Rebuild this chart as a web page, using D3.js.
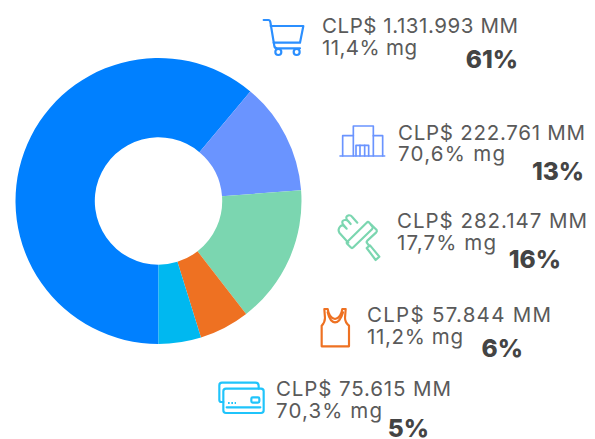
<!DOCTYPE html>
<html><head><meta charset="utf-8">
<script src="https://cdn.jsdelivr.net/npm/d3@7/dist/d3.min.js"></script>
<style>html,body{margin:0;background:#fff}svg{display:block}text{font-family:Inter,"Open Sans",sans-serif}</style>
</head><body><svg id="c" width="595" height="439"></svg>
<script>
const categories=["Supermercados","Centros comerciales","Mejoramiento del hogar","Vestuario","Tarjetas"];
const sliceValues=[61.1,12.7,15.7,5.7,4.8];
const amounts=["CLP$ 1.131.993 MM","CLP$ 222.761 MM","CLP$ 282.147 MM","CLP$ 57.844 MM","CLP$ 75.615 MM"];
const margins=["11,4% mg","70,6% mg","17,7% mg","11,2% mg","70,3% mg"];
const shares=["61%","13%","16%","6%","5%"];
const colors=["#0080ff","#6a94ff","#7bd6b0","#ee7122","#00b8f0"];
const iconColors=["#2b8fff","#6a94ff","#7bd6b0","#ee7122","#1fc4fb"];

const svg=d3.select("#c");
const pie=d3.pie().sort(null).value(d=>d).startAngle(Math.PI).endAngle(3*Math.PI);
const arc=d3.arc().innerRadius(63.7).outerRadius(143);
svg.append("g").attr("transform","translate(158.5,201)")
  .selectAll("path").data(pie(sliceValues)).join("path")
  .attr("d",arc).attr("fill",(d,i)=>colors[i]);

const layout=[
 {x:322,y1:33,y2:55,w:196,w2:95,px:518,py:68},
 {x:398,y1:139.5,y2:161,w:187,w2:107,px:584,py:180},
 {x:397,y1:228,y2:250,w:190,w2:99,px:561,py:268},
 {x:367,y1:322,y2:344,w:184,w2:96,px:523,py:357},
 {x:276,y1:396,y2:418,w:175,w2:106,px:429,py:437}
];
const g=svg.selectAll("g.item").data(layout).join("g").attr("class","item");
g.append("text").attr("x",d=>d.x).attr("y",d=>d.y1).attr("font-size",20.5).attr("fill","#5a5a5a")
 .attr("textLength",d=>d.w).attr("lengthAdjust","spacing").text((d,i)=>amounts[i]);
g.append("text").attr("x",d=>d.x).attr("y",d=>d.y2).attr("font-size",20.5).attr("fill","#5a5a5a")
 .attr("textLength",d=>d.w2).attr("lengthAdjust","spacing").text((d,i)=>margins[i]);
g.append("text").attr("x",d=>d.px).attr("y",d=>d.py).attr("text-anchor","end").attr("font-size",24.5).attr("font-weight",800).attr("fill","#444").text((d,i)=>shares[i]);

// Icon glyphs, one per category
const icons=[
 {t:[250,0],sw:6.5,parts:["M41 60H55Q60 60 61 66L73 138Q74 145 82 145H150","M62 78H160L150 128H71","M76 156a9 9 0 1 0 18 0a9 9 0 1 0 -18 0","M131 156a9 9 0 1 0 18 0a9 9 0 1 0 -18 0"]},
 {t:[250,0],sw:5,parts:["M270 468H404","M310 468V378H370V468","M310 407H278V468","M370 407H398V468","M318 468V436H356V468","M330 436V468","M344 436V468"]},
 {t:[330,210],sw:6.5,parts:["M52 95L110 38Q114 34 118 38L127 50Q130 54 126 58L70 112Q66 116 62 112L52 102Q48 98 52 95Z","M55 98L28 68Q22 58 32 48Q38 44 44 50L50 56L38 42Q34 32 44 30Q50 28 55 34L62 42L50 28Q46 18 56 16Q62 15 66 20L82 38","M124 44L140 60Q142 64 138 68L112 92Q108 96 112 100L118 108","M110 114L120 106L148 140L137 150Z"]},
 {t:[315,303],sw:6.5,parts:["M28 18L30 45Q30 58 20 68V130H102V68Q90 58 90 45L92 18H82Q78 45 60 48Q42 45 38 18Z","M38 28Q45 58 60 58Q75 58 84 28"]},
 {t:[212,378],sw:6.5,parts:["M34 72H28Q22 72 22 66V22Q22 14 30 14H130Q140 14 140 24V32","M42 32H147Q155 32 155 40V97Q155 105 147 105H42Q34 105 34 97V40Q34 32 42 32Z","M122 58H138Q142 58 142 62V70Q142 74 138 74H122Q118 74 118 70V62Q118 58 122 58Z","M44 88H145"]}
];
const ig=svg.selectAll("g.icon").data(icons).join("g").attr("class","icon")
 .attr("transform",d=>`translate(${d.t[0]},${d.t[1]}) scale(${1/3})`)
 .attr("fill","none").attr("stroke-linecap","round").attr("stroke-linejoin","round")
 .attr("stroke",(d,i)=>iconColors[i]).attr("stroke-width",d=>d.sw);
ig.selectAll("path").data(d=>d.parts).join("path").attr("d",d=>d);
ig.filter((d,i)=>i===4).append("path").attr("d","M48 75H72").attr("stroke-dasharray","5 5").attr("stroke-linecap","butt");
</script></body></html>
